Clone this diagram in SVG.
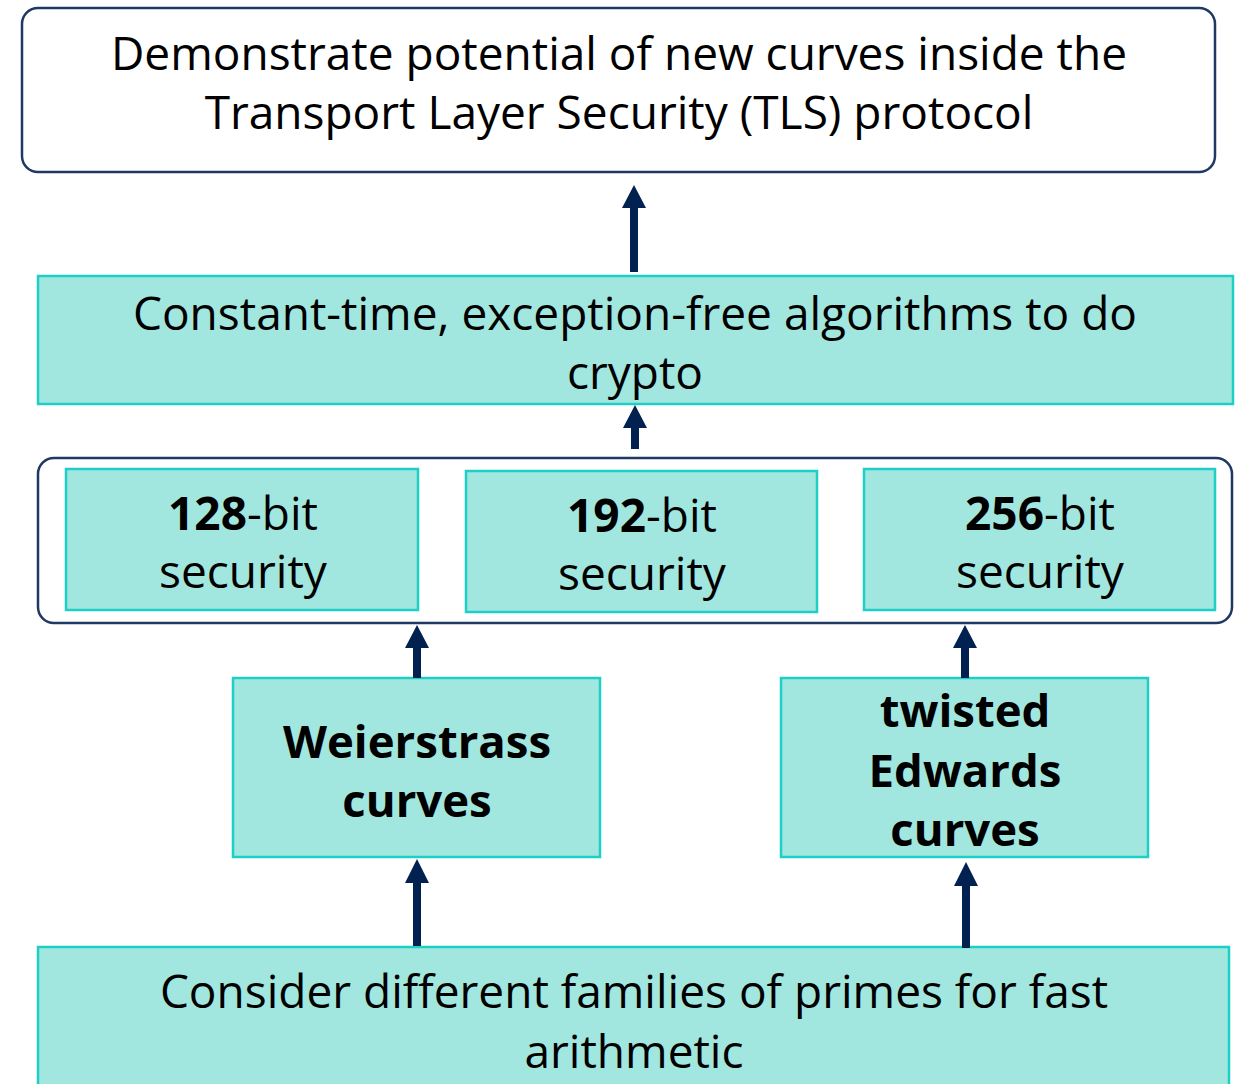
<svg xmlns="http://www.w3.org/2000/svg" width="1238" height="1084" viewBox="0 0 1238 1084">
  <style>
    .outline { fill: #ffffff; stroke: #1f3864; stroke-width: 2.5; }
    .teal { fill: #a1e7df; stroke: #1ecfc6; stroke-width: 2.5; }
    .t { font-family: "Open Sans", "Noto Sans", sans-serif; font-size: 46px; fill: #000; text-anchor: middle; }
    .b { font-weight: bold; }
    .hb { font-weight: bold; font-size: 45.5px; }
    .arrow { fill: #012151; }
  </style>

  <g id="goal">
    <rect class="outline" x="22" y="8" width="1193" height="164" rx="16"/>
    <text class="t" x="619" y="70">Demonstrate potential of new curves inside the</text>
    <text class="t" x="619" y="129">Transport Layer Security (TLS) protocol</text>
  </g>

  <g id="algorithms">
    <rect class="teal" x="38" y="276" width="1195" height="128"/>
    <text class="t" x="635" y="330">Constant-time, exception-free algorithms to do</text>
    <text class="t" x="635" y="389">crypto</text>
  </g>

  <g id="security-levels">
    <rect class="outline" x="38" y="458" width="1194" height="165" rx="16"/>
  </g>

  <g id="sec128">
    <rect class="teal" x="66" y="469" width="352" height="141"/>
    <text class="t" x="243" y="530"><tspan class="b">128</tspan>-bit</text>
    <text class="t" x="243" y="588">security</text>
  </g>

  <g id="sec192">
    <rect class="teal" x="466" y="471" width="351" height="141"/>
    <text class="t" x="642" y="532"><tspan class="b">192</tspan>-bit</text>
    <text class="t" x="642" y="590">security</text>
  </g>

  <g id="sec256">
    <rect class="teal" x="864" y="469" width="351" height="141"/>
    <text class="t" x="1040" y="530"><tspan class="b">256</tspan>-bit</text>
    <text class="t" x="1040" y="588">security</text>
  </g>

  <g id="weierstrass">
    <rect class="teal" x="233" y="678" width="367" height="179"/>
    <text class="t hb" x="417" y="758">Weierstrass</text>
    <text class="t hb" x="417" y="817">curves</text>
  </g>

  <g id="edwards">
    <rect class="teal" x="781" y="678" width="367" height="179"/>
    <text class="t hb" x="965" y="727">twisted</text>
    <text class="t hb" x="965" y="787">Edwards</text>
    <text class="t hb" x="965" y="846">curves</text>
  </g>

  <g id="primes">
    <rect class="teal" x="38" y="947" width="1191" height="150"/>
    <text class="t" x="634" y="1008">Consider different families of primes for fast</text>
    <text class="t" x="634" y="1068">arithmetic</text>
  </g>

  <!-- block arrows, each pointing up into the box above -->
  <g id="connectors" class="arrow">
    <path d="M622,208 L634,185 L646,208 L638,208 L638,272 L630,272 L630,208 Z"/>
    <path d="M623,428 L635,405 L647,428 L639,428 L639,449 L631,449 L631,428 Z"/>
    <path d="M405,648 L417,625 L429,648 L421,648 L421,678 L413,678 L413,648 Z"/>
    <path d="M953,648 L965,625 L977,648 L969,648 L969,678 L961,678 L961,648 Z"/>
    <path d="M405,883 L417,859 L429,883 L421,883 L421,946 L413,946 L413,883 Z"/>
    <path d="M954,886 L966,862 L978,886 L970,886 L970,948 L962,948 L962,886 Z"/>
  </g>
</svg>
